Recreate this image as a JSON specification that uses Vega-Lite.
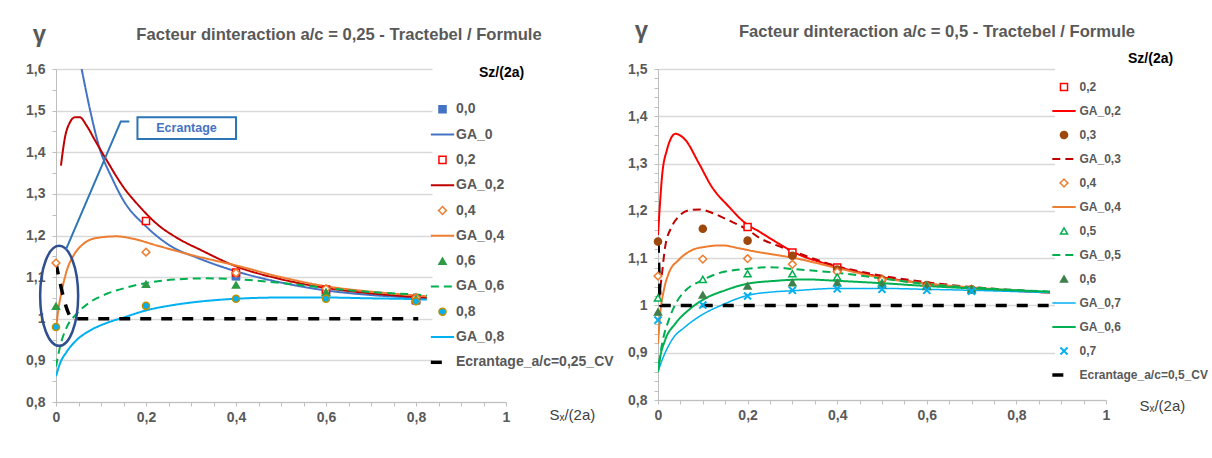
{
  "$schema": "https://vega.github.io/schema/vega-lite/v6.json",
  "padding": {"left": 25, "top": 18, "right": 2, "bottom": 2},
  "background": "white",
  "config": {
    "view": {"stroke": null},
    "font": "Liberation Sans",
    "axis": {"labelFont": "Liberation Sans", "titleFont": "Liberation Sans", "domainColor": "#BFBFBF", "tickColor": "#BFBFBF", "gridColor": "#D9D9D9", "gridWidth": 1.3, "labelColor": "#595959", "labelFontSize": 14, "labelFontWeight": "bold", "tickSize": 4, "labelFlush": false, "labelOverlap": false, "labelBound": false},
    "legend": {"symbolFillColor": "transparent", "symbolStrokeColor": "#000000", "labelFont": "Liberation Sans", "titleFont": "Liberation Sans"},
    "title": {"font": "Liberation Sans"}
  },
  "datasets": {
    "L": [
      {"s": "GA_0", "x": 0.057, "y": 1.6}, {"s": "GA_0", "x": 0.076, "y": 1.5}, {"s": "GA_0", "x": 0.094, "y": 1.42}, {"s": "GA_0", "x": 0.127, "y": 1.332}, {"s": "GA_0", "x": 0.15, "y": 1.284}, {"s": "GA_0", "x": 0.2, "y": 1.222}, {"s": "GA_0", "x": 0.25, "y": 1.178}, {"s": "GA_0", "x": 0.32, "y": 1.144}, {"s": "GA_0", "x": 0.4, "y": 1.114}, {"s": "GA_0", "x": 0.5, "y": 1.087}, {"s": "GA_0", "x": 0.6, "y": 1.068}, {"s": "GA_0", "x": 0.7, "y": 1.057}, {"s": "GA_0", "x": 0.8, "y": 1.05}, {"s": "GA_0", "x": 0.824, "y": 1.048},
      {"s": "GA_0,2", "x": 0.011, "y": 1.368}, {"s": "GA_0,2", "x": 0.02, "y": 1.436}, {"s": "GA_0,2", "x": 0.031, "y": 1.472}, {"s": "GA_0,2", "x": 0.042, "y": 1.484}, {"s": "GA_0,2", "x": 0.053, "y": 1.484}, {"s": "GA_0,2", "x": 0.068, "y": 1.464}, {"s": "GA_0,2", "x": 0.087, "y": 1.428}, {"s": "GA_0,2", "x": 0.113, "y": 1.38}, {"s": "GA_0,2", "x": 0.15, "y": 1.316}, {"s": "GA_0,2", "x": 0.187, "y": 1.268}, {"s": "GA_0,2", "x": 0.224, "y": 1.228}, {"s": "GA_0,2", "x": 0.276, "y": 1.19}, {"s": "GA_0,2", "x": 0.32, "y": 1.166}, {"s": "GA_0,2", "x": 0.4, "y": 1.126}, {"s": "GA_0,2", "x": 0.5, "y": 1.095}, {"s": "GA_0,2", "x": 0.6, "y": 1.074}, {"s": "GA_0,2", "x": 0.7, "y": 1.061}, {"s": "GA_0,2", "x": 0.8, "y": 1.052}, {"s": "GA_0,2", "x": 0.824, "y": 1.05},
      {"s": "GA_0,4", "x": 0, "y": 0.976}, {"s": "GA_0,4", "x": 0.005, "y": 1.02}, {"s": "GA_0,4", "x": 0.013, "y": 1.068}, {"s": "GA_0,4", "x": 0.024, "y": 1.116}, {"s": "GA_0,4", "x": 0.039, "y": 1.152}, {"s": "GA_0,4", "x": 0.061, "y": 1.18}, {"s": "GA_0,4", "x": 0.09, "y": 1.194}, {"s": "GA_0,4", "x": 0.135, "y": 1.198}, {"s": "GA_0,4", "x": 0.172, "y": 1.192}, {"s": "GA_0,4", "x": 0.224, "y": 1.176}, {"s": "GA_0,4", "x": 0.298, "y": 1.154}, {"s": "GA_0,4", "x": 0.4, "y": 1.128}, {"s": "GA_0,4", "x": 0.5, "y": 1.1}, {"s": "GA_0,4", "x": 0.6, "y": 1.078}, {"s": "GA_0,4", "x": 0.7, "y": 1.065}, {"s": "GA_0,4", "x": 0.8, "y": 1.056}, {"s": "GA_0,4", "x": 0.824, "y": 1.054},
      {"s": "GA_0,6", "x": 0, "y": 0.885}, {"s": "GA_0,6", "x": 0.009, "y": 0.933}, {"s": "GA_0,6", "x": 0.024, "y": 0.98}, {"s": "GA_0,6", "x": 0.046, "y": 1.012}, {"s": "GA_0,6", "x": 0.076, "y": 1.04}, {"s": "GA_0,6", "x": 0.113, "y": 1.06}, {"s": "GA_0,6", "x": 0.157, "y": 1.075}, {"s": "GA_0,6", "x": 0.201, "y": 1.086}, {"s": "GA_0,6", "x": 0.261, "y": 1.094}, {"s": "GA_0,6", "x": 0.335, "y": 1.097}, {"s": "GA_0,6", "x": 0.4, "y": 1.095}, {"s": "GA_0,6", "x": 0.5, "y": 1.086}, {"s": "GA_0,6", "x": 0.6, "y": 1.074}, {"s": "GA_0,6", "x": 0.7, "y": 1.064}, {"s": "GA_0,6", "x": 0.8, "y": 1.058}, {"s": "GA_0,6", "x": 0.824, "y": 1.056},
      {"s": "GA_0,8", "x": 0, "y": 0.862}, {"s": "GA_0,8", "x": 0.009, "y": 0.893}, {"s": "GA_0,8", "x": 0.024, "y": 0.921}, {"s": "GA_0,8", "x": 0.046, "y": 0.949}, {"s": "GA_0,8", "x": 0.076, "y": 0.972}, {"s": "GA_0,8", "x": 0.113, "y": 0.99}, {"s": "GA_0,8", "x": 0.15, "y": 1.003}, {"s": "GA_0,8", "x": 0.2, "y": 1.02}, {"s": "GA_0,8", "x": 0.261, "y": 1.033}, {"s": "GA_0,8", "x": 0.335, "y": 1.043}, {"s": "GA_0,8", "x": 0.4, "y": 1.048}, {"s": "GA_0,8", "x": 0.5, "y": 1.051}, {"s": "GA_0,8", "x": 0.6, "y": 1.051}, {"s": "GA_0,8", "x": 0.7, "y": 1.049}, {"s": "GA_0,8", "x": 0.8, "y": 1.047}, {"s": "GA_0,8", "x": 0.824, "y": 1.046},
      {"s": "Ecrantage_a/c=0,25_CV", "x": 0, "y": 1.133}, {"s": "Ecrantage_a/c=0,25_CV", "x": 0.038, "y": 1.0}, {"s": "Ecrantage_a/c=0,25_CV", "x": 0.805, "y": 1.0}
    ],
    "LP": [
      {"s": "0,0", "x": 0.4, "y": 1.102}, {"s": "0,0", "x": 0.6, "y": 1.064}, {"s": "0,0", "x": 0.8, "y": 1.044},
      {"s": "0,2", "x": 0.2, "y": 1.235}, {"s": "0,2", "x": 0.4, "y": 1.111}, {"s": "0,2", "x": 0.6, "y": 1.07}, {"s": "0,2", "x": 0.8, "y": 1.046},
      {"s": "0,4", "x": 0, "y": 1.134}, {"s": "0,4", "x": 0.2, "y": 1.16}, {"s": "0,4", "x": 0.4, "y": 1.11}, {"s": "0,4", "x": 0.6, "y": 1.072}, {"s": "0,4", "x": 0.8, "y": 1.051},
      {"s": "0,6", "x": 0, "y": 1.03}, {"s": "0,6", "x": 0.2, "y": 1.083}, {"s": "0,6", "x": 0.4, "y": 1.081}, {"s": "0,6", "x": 0.6, "y": 1.064}, {"s": "0,6", "x": 0.8, "y": 1.048},
      {"s": "0,8", "x": 0, "y": 0.98}, {"s": "0,8", "x": 0.2, "y": 1.031}, {"s": "0,8", "x": 0.4, "y": 1.048}, {"s": "0,8", "x": 0.6, "y": 1.048}, {"s": "0,8", "x": 0.8, "y": 1.042}
    ],
    "R": [
      {"s": "GA_0,2", "x": 0, "y": 1.149}, {"s": "GA_0,2", "x": 0.005, "y": 1.223}, {"s": "GA_0,2", "x": 0.009, "y": 1.273}, {"s": "GA_0,2", "x": 0.02, "y": 1.329}, {"s": "GA_0,2", "x": 0.039, "y": 1.363}, {"s": "GA_0,2", "x": 0.061, "y": 1.35}, {"s": "GA_0,2", "x": 0.091, "y": 1.301}, {"s": "GA_0,2", "x": 0.12, "y": 1.251}, {"s": "GA_0,2", "x": 0.158, "y": 1.209}, {"s": "GA_0,2", "x": 0.195, "y": 1.174}, {"s": "GA_0,2", "x": 0.228, "y": 1.155}, {"s": "GA_0,2", "x": 0.262, "y": 1.135}, {"s": "GA_0,2", "x": 0.3, "y": 1.114}, {"s": "GA_0,2", "x": 0.4, "y": 1.082}, {"s": "GA_0,2", "x": 0.5, "y": 1.06}, {"s": "GA_0,2", "x": 0.6, "y": 1.046}, {"s": "GA_0,2", "x": 0.7, "y": 1.037}, {"s": "GA_0,2", "x": 0.875, "y": 1.027},
      {"s": "GA_0,3", "x": 0.002, "y": 1.01}, {"s": "GA_0,3", "x": 0.009, "y": 1.068}, {"s": "GA_0,3", "x": 0.016, "y": 1.124}, {"s": "GA_0,3", "x": 0.031, "y": 1.167}, {"s": "GA_0,3", "x": 0.046, "y": 1.188}, {"s": "GA_0,3", "x": 0.068, "y": 1.201}, {"s": "GA_0,3", "x": 0.094, "y": 1.203}, {"s": "GA_0,3", "x": 0.12, "y": 1.196}, {"s": "GA_0,3", "x": 0.158, "y": 1.18}, {"s": "GA_0,3", "x": 0.2, "y": 1.16}, {"s": "GA_0,3", "x": 0.228, "y": 1.142}, {"s": "GA_0,3", "x": 0.262, "y": 1.128}, {"s": "GA_0,3", "x": 0.3, "y": 1.115}, {"s": "GA_0,3", "x": 0.4, "y": 1.083}, {"s": "GA_0,3", "x": 0.5, "y": 1.063}, {"s": "GA_0,3", "x": 0.6, "y": 1.049}, {"s": "GA_0,3", "x": 0.7, "y": 1.039}, {"s": "GA_0,3", "x": 0.875, "y": 1.028},
      {"s": "GA_0,4", "x": 0, "y": 0.919}, {"s": "GA_0,4", "x": 0.005, "y": 0.983}, {"s": "GA_0,4", "x": 0.013, "y": 1.032}, {"s": "GA_0,4", "x": 0.024, "y": 1.068}, {"s": "GA_0,4", "x": 0.046, "y": 1.096}, {"s": "GA_0,4", "x": 0.076, "y": 1.117}, {"s": "GA_0,4", "x": 0.106, "y": 1.124}, {"s": "GA_0,4", "x": 0.143, "y": 1.127}, {"s": "GA_0,4", "x": 0.18, "y": 1.121}, {"s": "GA_0,4", "x": 0.217, "y": 1.114}, {"s": "GA_0,4", "x": 0.262, "y": 1.107}, {"s": "GA_0,4", "x": 0.3, "y": 1.101}, {"s": "GA_0,4", "x": 0.4, "y": 1.079}, {"s": "GA_0,4", "x": 0.5, "y": 1.058}, {"s": "GA_0,4", "x": 0.6, "y": 1.046}, {"s": "GA_0,4", "x": 0.7, "y": 1.038}, {"s": "GA_0,4", "x": 0.875, "y": 1.027},
      {"s": "GA_0,5", "x": 0.002, "y": 0.877}, {"s": "GA_0,5", "x": 0.01, "y": 0.923}, {"s": "GA_0,5", "x": 0.024, "y": 0.969}, {"s": "GA_0,5", "x": 0.039, "y": 1.003}, {"s": "GA_0,5", "x": 0.061, "y": 1.031}, {"s": "GA_0,5", "x": 0.098, "y": 1.053}, {"s": "GA_0,5", "x": 0.135, "y": 1.068}, {"s": "GA_0,5", "x": 0.195, "y": 1.077}, {"s": "GA_0,5", "x": 0.25, "y": 1.081}, {"s": "GA_0,5", "x": 0.3, "y": 1.077}, {"s": "GA_0,5", "x": 0.4, "y": 1.069}, {"s": "GA_0,5", "x": 0.5, "y": 1.057}, {"s": "GA_0,5", "x": 0.6, "y": 1.045}, {"s": "GA_0,5", "x": 0.7, "y": 1.038}, {"s": "GA_0,5", "x": 0.875, "y": 1.029},
      {"s": "GA_0,7", "x": 0, "y": 0.86}, {"s": "GA_0,7", "x": 0.009, "y": 0.884}, {"s": "GA_0,7", "x": 0.031, "y": 0.927}, {"s": "GA_0,7", "x": 0.061, "y": 0.955}, {"s": "GA_0,7", "x": 0.098, "y": 0.98}, {"s": "GA_0,7", "x": 0.143, "y": 1.001}, {"s": "GA_0,7", "x": 0.195, "y": 1.02}, {"s": "GA_0,7", "x": 0.262, "y": 1.029}, {"s": "GA_0,7", "x": 0.3, "y": 1.031}, {"s": "GA_0,7", "x": 0.4, "y": 1.036}, {"s": "GA_0,7", "x": 0.5, "y": 1.036}, {"s": "GA_0,7", "x": 0.6, "y": 1.034}, {"s": "GA_0,7", "x": 0.7, "y": 1.032}, {"s": "GA_0,7", "x": 0.875, "y": 1.027},
      {"s": "GA_0,6", "x": 0, "y": 0.859}, {"s": "GA_0,6", "x": 0.005, "y": 0.891}, {"s": "GA_0,6", "x": 0.016, "y": 0.927}, {"s": "GA_0,6", "x": 0.039, "y": 0.962}, {"s": "GA_0,6", "x": 0.068, "y": 0.99}, {"s": "GA_0,6", "x": 0.106, "y": 1.015}, {"s": "GA_0,6", "x": 0.15, "y": 1.032}, {"s": "GA_0,6", "x": 0.195, "y": 1.045}, {"s": "GA_0,6", "x": 0.262, "y": 1.052}, {"s": "GA_0,6", "x": 0.33, "y": 1.055}, {"s": "GA_0,6", "x": 0.4, "y": 1.052}, {"s": "GA_0,6", "x": 0.5, "y": 1.047}, {"s": "GA_0,6", "x": 0.6, "y": 1.041}, {"s": "GA_0,6", "x": 0.7, "y": 1.036}, {"s": "GA_0,6", "x": 0.875, "y": 1.029},
      {"s": "Ecrantage_a/c=0,5_CV", "x": 0, "y": 1.135}, {"s": "Ecrantage_a/c=0,5_CV", "x": 0.006, "y": 1.0}, {"s": "Ecrantage_a/c=0,5_CV", "x": 0.872, "y": 1.0}
    ],
    "RP": [
      {"s": "0,2", "x": 0.2, "y": 1.166}, {"s": "0,2", "x": 0.3, "y": 1.112}, {"s": "0,2", "x": 0.4, "y": 1.08},
      {"s": "0,3", "x": 0, "y": 1.135}, {"s": "0,3", "x": 0.1, "y": 1.162}, {"s": "0,3", "x": 0.2, "y": 1.137}, {"s": "0,3", "x": 0.3, "y": 1.105}, {"s": "0,3", "x": 0.4, "y": 1.076}, {"s": "0,3", "x": 0.5, "y": 1.055}, {"s": "0,3", "x": 0.6, "y": 1.043}, {"s": "0,3", "x": 0.7, "y": 1.034},
      {"s": "0,4", "x": 0, "y": 1.062}, {"s": "0,4", "x": 0.1, "y": 1.098}, {"s": "0,4", "x": 0.2, "y": 1.099}, {"s": "0,4", "x": 0.3, "y": 1.087}, {"s": "0,4", "x": 0.4, "y": 1.071}, {"s": "0,4", "x": 0.5, "y": 1.054}, {"s": "0,4", "x": 0.6, "y": 1.041}, {"s": "0,4", "x": 0.7, "y": 1.034},
      {"s": "0,5", "x": 0, "y": 1.016}, {"s": "0,5", "x": 0.1, "y": 1.055}, {"s": "0,5", "x": 0.2, "y": 1.067}, {"s": "0,5", "x": 0.3, "y": 1.067}, {"s": "0,5", "x": 0.4, "y": 1.06}, {"s": "0,5", "x": 0.5, "y": 1.048}, {"s": "0,5", "x": 0.6, "y": 1.042}, {"s": "0,5", "x": 0.7, "y": 1.035},
      {"s": "0,6", "x": 0, "y": 0.986}, {"s": "0,6", "x": 0.1, "y": 1.022}, {"s": "0,6", "x": 0.2, "y": 1.041}, {"s": "0,6", "x": 0.3, "y": 1.048}, {"s": "0,6", "x": 0.4, "y": 1.048}, {"s": "0,6", "x": 0.5, "y": 1.044}, {"s": "0,6", "x": 0.6, "y": 1.04}, {"s": "0,6", "x": 0.7, "y": 1.033},
      {"s": "0,7", "x": 0, "y": 0.969}, {"s": "0,7", "x": 0.1, "y": 1.001}, {"s": "0,7", "x": 0.2, "y": 1.02}, {"s": "0,7", "x": 0.3, "y": 1.032}, {"s": "0,7", "x": 0.4, "y": 1.035}, {"s": "0,7", "x": 0.5, "y": 1.034}, {"s": "0,7", "x": 0.6, "y": 1.032}, {"s": "0,7", "x": 0.7, "y": 1.03}
    ],
    "ell": [{"x": 0.007, "y": 1.055}],
    "call": [{"x": 0.022, "y": 1.166}, {"x": 0.144, "y": 1.474}, {"x": 0.163, "y": 1.474}],
    "box": [{"x1": 0.181, "x2": 0.4, "y1": 1.484, "y2": 1.432, "xc": 0.29, "yc": 1.458, "t": "Ecrantage"}]
  },
  "hconcat": [
    {
      "width": 450,
      "height": 333,
      "title": {"text": "Facteur dinteraction a/c = 0,25 - Tractebel / Formule", "anchor": "middle", "dx": 58, "dy": 26, "fontSize": 16.6, "fontWeight": "bold", "color": "#595959"},
      "layer": [
        {
          "data": {"name": "L"},
          "mark": {"type": "line", "interpolate": "monotone", "clip": true},
          "encoding": {
            "x": {"field": "x", "type": "quantitative", "scale": {"domain": [0, 1], "nice": false, "zero": false},
              "axis": {"values": [0, 0.05, 0.1, 0.15, 0.2, 0.25, 0.3, 0.35, 0.4, 0.45, 0.5, 0.55, 0.6, 0.65, 0.7, 0.75, 0.8, 0.85, 0.9, 0.95, 1], "tickCount": 100, "grid": false, "labelPadding": 4, "labelOverlap": false,
                "labelExpr": "abs(datum.value*5-round(datum.value*5))<1e-6 ? replace(format(datum.value,'.1~f'),'.',',') : ''",
                "title": "Sₓ/(2a)", "titleX": 493, "titleY": 12, "titleAlign": "left", "titleBaseline": "middle", "titleFontWeight": "normal", "titleFontSize": 15, "titleColor": "#404040"}},
            "y": {"field": "y", "type": "quantitative", "scale": {"domain": [0.8, 1.6], "nice": false, "zero": false},
              "axis": {"values": [0.8, 0.85, 0.9, 0.95, 1, 1.05, 1.1, 1.15, 1.2, 1.25, 1.3, 1.35, 1.4, 1.45, 1.5, 1.55, 1.6], "tickCount": 100, "grid": true, "labelOverlap": false,
                "gridOpacity": {"condition": {"test": "abs(datum.value*10-round(datum.value*10))<1e-6", "value": 1}, "value": 0},
                "labelExpr": "abs(datum.value*10-round(datum.value*10))<1e-6 ? replace(format(datum.value,'.1~f'),'.',',') : ''",
                "labelPadding": 7, "labelBaseline": "middle",
                "title": "γ", "titleAngle": 0, "titleX": -17, "titleY": -35, "titleAlign": "center", "titleBaseline": "middle", "titleFontSize": 24, "titleFontWeight": "bold", "titleColor": "#595959"}},
            "stroke": {"field": "s", "type": "nominal",
              "scale": {"domain": ["0,0", "GA_0", "0,2", "GA_0,2", "0,4", "GA_0,4", "0,6", "GA_0,6", "0,8", "GA_0,8", "Ecrantage_a/c=0,25_CV"], "range": ["#4472C4", "#4472C4", "#FF0000", "#C00000", "#ED7D31", "#ED7D31", "#2E9A46", "#00B050", "#BF9000", "#00B0F0", "#000000"]},
              "legend": {"title": "Sz/(2a)", "orient": "none", "legendX": 376.5, "legendY": -6, "titleFontSize": 14, "titleFontWeight": "bold", "titleColor": "#000000", "labelFontSize": 14, "labelFontWeight": "bold", "labelColor": "#595959", "symbolSize": 50, "rowPadding": 11.3, "labelOffset": 6.5, "titlePadding": 22.3, "fillColor": "#FFFFFF", "padding": 3, "symbolFillColor": "transparent", "symbolStrokeColor": "#000000", "gridAlign": "all", "labelLimit": 300, "encoding": {"title": {"dx": {"value": 43.5}}}}},
            "strokeDash": {"field": "s", "type": "nominal",
              "scale": {"type": "ordinal", "domain": ["0,0", "GA_0", "0,2", "GA_0,2", "0,4", "GA_0,4", "0,6", "GA_0,6", "0,8", "GA_0,8", "Ecrantage_a/c=0,25_CV"], "range": [[1, 0], [1, 0], [1, 0], [1, 0], [1, 0], [1, 0], [1, 0], [8, 5], [1, 0], [1, 0], [11, 10]]},
              "legend": {"title": "Sz/(2a)", "orient": "none", "legendX": 376.5, "legendY": -6, "titleFontSize": 14, "titleFontWeight": "bold", "titleColor": "#000000", "labelFontSize": 14, "labelFontWeight": "bold", "labelColor": "#595959", "symbolSize": 50, "rowPadding": 11.3, "labelOffset": 6.5, "titlePadding": 22.3, "fillColor": "#FFFFFF", "padding": 3, "symbolFillColor": "transparent", "symbolStrokeColor": "#000000", "gridAlign": "all", "labelLimit": 300, "encoding": {"title": {"dx": {"value": 43.5}}}}},
            "strokeWidth": {"field": "s", "type": "nominal",
              "scale": {"type": "ordinal", "domain": ["0,0", "GA_0", "0,2", "GA_0,2", "0,4", "GA_0,4", "0,6", "GA_0,6", "0,8", "GA_0,8", "Ecrantage_a/c=0,25_CV"], "range": [1.5, 2, 1.5, 2, 1.5, 2, 1.5, 2, 1.5, 2, 3.5]},
              "legend": {"title": "Sz/(2a)", "orient": "none", "legendX": 376.5, "legendY": -6, "titleFontSize": 14, "titleFontWeight": "bold", "titleColor": "#000000", "labelFontSize": 14, "labelFontWeight": "bold", "labelColor": "#595959", "symbolSize": 50, "rowPadding": 11.3, "labelOffset": 6.5, "titlePadding": 22.3, "fillColor": "#FFFFFF", "padding": 3, "symbolFillColor": "transparent", "symbolStrokeColor": "#000000", "gridAlign": "all", "labelLimit": 300, "encoding": {"title": {"dx": {"value": 43.5}}}}}
          }
        },
        {
          "data": {"name": "LP"},
          "mark": {"type": "point", "size": 50, "opacity": 1, "clip": false},
          "encoding": {
            "x": {"field": "x", "type": "quantitative"},
            "y": {"field": "y", "type": "quantitative"},
            "stroke": {"field": "s", "type": "nominal",
              "scale": {"domain": ["0,0", "GA_0", "0,2", "GA_0,2", "0,4", "GA_0,4", "0,6", "GA_0,6", "0,8", "GA_0,8", "Ecrantage_a/c=0,25_CV"], "range": ["#4472C4", "#4472C4", "#FF0000", "#C00000", "#ED7D31", "#ED7D31", "#2E9A46", "#00B050", "#BF9000", "#00B0F0", "#000000"]},
              "legend": {"title": "Sz/(2a)", "orient": "none", "legendX": 376.5, "legendY": -6, "titleFontSize": 14, "titleFontWeight": "bold", "titleColor": "#000000", "labelFontSize": 14, "labelFontWeight": "bold", "labelColor": "#595959", "symbolSize": 50, "rowPadding": 11.3, "labelOffset": 6.5, "titlePadding": 22.3, "fillColor": "#FFFFFF", "padding": 3, "symbolFillColor": "transparent", "symbolStrokeColor": "#000000", "gridAlign": "all", "labelLimit": 300, "encoding": {"title": {"dx": {"value": 43.5}}}}},
            "fill": {"field": "s", "type": "nominal",
              "scale": {"domain": ["0,0", "GA_0", "0,2", "GA_0,2", "0,4", "GA_0,4", "0,6", "GA_0,6", "0,8", "GA_0,8", "Ecrantage_a/c=0,25_CV"], "range": ["#4472C4", "transparent", "#FFFFFF", "transparent", "#FFFFFF", "transparent", "#2E9A46", "transparent", "#00B0F0", "transparent", "transparent"]},
              "legend": {"title": "Sz/(2a)", "orient": "none", "legendX": 376.5, "legendY": -6, "titleFontSize": 14, "titleFontWeight": "bold", "titleColor": "#000000", "labelFontSize": 14, "labelFontWeight": "bold", "labelColor": "#595959", "symbolSize": 50, "rowPadding": 11.3, "labelOffset": 6.5, "titlePadding": 22.3, "fillColor": "#FFFFFF", "padding": 3, "symbolFillColor": "transparent", "symbolStrokeColor": "#000000", "gridAlign": "all", "labelLimit": 300, "encoding": {"title": {"dx": {"value": 43.5}}}}},
            "shape": {"field": "s", "type": "nominal",
              "scale": {"domain": ["0,0", "GA_0", "0,2", "GA_0,2", "0,4", "GA_0,4", "0,6", "GA_0,6", "0,8", "GA_0,8", "Ecrantage_a/c=0,25_CV"], "range": ["square", "M-3.3,0L3.3,0", "square", "M-3.3,0L3.3,0", "M0,-1.1L1.1,0L0,1.1L-1.1,0Z", "M-3.3,0L3.3,0", "triangle-up", "M-3.3,0L3.3,0", "circle", "M-3.3,0L3.3,0", "M-3.3,0L-0.1,0"]},
              "legend": {"title": "Sz/(2a)", "orient": "none", "legendX": 376.5, "legendY": -6, "titleFontSize": 14, "titleFontWeight": "bold", "titleColor": "#000000", "labelFontSize": 14, "labelFontWeight": "bold", "labelColor": "#595959", "symbolSize": 50, "rowPadding": 11.3, "labelOffset": 6.5, "titlePadding": 22.3, "fillColor": "#FFFFFF", "padding": 3, "symbolFillColor": "transparent", "symbolStrokeColor": "#000000", "gridAlign": "all", "labelLimit": 300, "encoding": {"title": {"dx": {"value": 43.5}}}}},
            "strokeWidth": {"field": "s", "type": "nominal",
              "scale": {"type": "ordinal", "domain": ["0,0", "GA_0", "0,2", "GA_0,2", "0,4", "GA_0,4", "0,6", "GA_0,6", "0,8", "GA_0,8", "Ecrantage_a/c=0,25_CV"], "range": [1.5, 2, 1.5, 2, 1.5, 2, 1.5, 2, 1.5, 2, 3.5]},
              "legend": {"title": "Sz/(2a)", "orient": "none", "legendX": 376.5, "legendY": -6, "titleFontSize": 14, "titleFontWeight": "bold", "titleColor": "#000000", "labelFontSize": 14, "labelFontWeight": "bold", "labelColor": "#595959", "symbolSize": 50, "rowPadding": 11.3, "labelOffset": 6.5, "titlePadding": 22.3, "fillColor": "#FFFFFF", "padding": 3, "symbolFillColor": "transparent", "symbolStrokeColor": "#000000", "gridAlign": "all", "labelLimit": 300, "encoding": {"title": {"dx": {"value": 43.5}}}}}
          }
        },
        {
          "data": {"name": "ell"},
          "mark": {"type": "point", "shape": "M-0.38,0A0.38,1,0,1,0,0.38,0A0.38,1,0,1,0,-0.38,0Z", "size": 10000, "color": "#2F4F8F", "strokeWidth": 2.5, "filled": false, "opacity": 1, "clip": false},
          "encoding": {"x": {"field": "x", "type": "quantitative"}, "y": {"field": "y", "type": "quantitative"}}
        },
        {
          "data": {"name": "call"},
          "mark": {"type": "line", "color": "#2E75B6", "strokeWidth": 2, "clip": false},
          "encoding": {"x": {"field": "x", "type": "quantitative"}, "y": {"field": "y", "type": "quantitative"}}
        },
        {
          "data": {"name": "box"},
          "mark": {"type": "rect", "fill": "#FFFFFF", "stroke": "#2E75B6", "strokeWidth": 2},
          "encoding": {"x": {"field": "x1", "type": "quantitative"}, "x2": {"field": "x2"}, "y": {"field": "y1", "type": "quantitative"}, "y2": {"field": "y2"}}
        },
        {
          "data": {"name": "box"},
          "mark": {"type": "text", "color": "#4472C4", "fontWeight": "bold", "fontSize": 12.5, "align": "center", "baseline": "middle"},
          "encoding": {"x": {"field": "xc", "type": "quantitative"}, "y": {"field": "yc", "type": "quantitative"}, "text": {"field": "t"}}
        }
      ]
    },
    {
      "width": 448,
      "height": 331,
      "title": {"text": "Facteur dinteraction a/c = 0,5 - Tractebel / Formule", "anchor": "middle", "dx": 55, "dy": 27, "fontSize": 16.6, "fontWeight": "bold", "color": "#595959"},
      "layer": [
        {
          "data": {"name": "R"},
          "mark": {"type": "line", "interpolate": "monotone", "clip": true},
          "encoding": {
            "x": {"field": "x", "type": "quantitative", "scale": {"domain": [0, 1], "nice": false, "zero": false},
              "axis": {"values": [0, 0.05, 0.1, 0.15, 0.2, 0.25, 0.3, 0.35, 0.4, 0.45, 0.5, 0.55, 0.6, 0.65, 0.7, 0.75, 0.8, 0.85, 0.9, 0.95, 1], "tickCount": 100, "grid": false, "labelPadding": 4, "labelOverlap": false,
                "labelExpr": "abs(datum.value*5-round(datum.value*5))<1e-6 ? replace(format(datum.value,'.1~f'),'.',',') : ''",
                "title": "Sₓ/(2a)", "titleX": 481, "titleY": 5, "titleAlign": "left", "titleBaseline": "middle", "titleFontWeight": "normal", "titleFontSize": 15, "titleColor": "#404040"}},
            "y": {"field": "y", "type": "quantitative", "scale": {"domain": [0.8, 1.5], "nice": false, "zero": false},
              "axis": {"values": [0.8, 0.82, 0.84, 0.86, 0.88, 0.9, 0.92, 0.94, 0.96, 0.98, 1, 1.02, 1.04, 1.06, 1.08, 1.1, 1.12, 1.14, 1.16, 1.18, 1.2, 1.22, 1.24, 1.26, 1.28, 1.3, 1.32, 1.34, 1.36, 1.38, 1.4, 1.42, 1.44, 1.46, 1.48, 1.5], "tickCount": 100, "grid": true, "labelOverlap": false,
                "gridOpacity": {"condition": {"test": "abs(datum.value*10-round(datum.value*10))<1e-6", "value": 1}, "value": 0},
                "labelExpr": "abs(datum.value*10-round(datum.value*10))<1e-6 ? replace(format(datum.value,'.1~f'),'.',',') : ''",
                "labelPadding": 7, "labelBaseline": "middle",
                "title": "γ", "titleAngle": 0, "titleX": -17, "titleY": -39, "titleAlign": "center", "titleBaseline": "middle", "titleFontSize": 24, "titleFontWeight": "bold", "titleColor": "#595959"}},
            "stroke": {"field": "s", "type": "nominal",
              "scale": {"domain": ["0,2", "GA_0,2", "0,3", "GA_0,3", "0,4", "GA_0,4", "0,5", "GA_0,5", "0,6", "GA_0,7", "GA_0,6", "0,7", "Ecrantage_a/c=0,5_CV"], "range": ["#FF0000", "#FF0000", "#9E480E", "#C00000", "#ED7D31", "#ED7D31", "#00B050", "#00B050", "#3F7F4B", "#00B0F0", "#00B050", "#00B0F0", "#000000"]},
              "legend": {"title": "Sz/(2a)", "orient": "none", "legendX": 397, "legendY": -20.4, "titleFontSize": 14, "titleFontWeight": "bold", "titleColor": "#000000", "labelFontSize": 12, "labelFontWeight": "bold", "labelColor": "#595959", "symbolSize": 50, "rowPadding": 8, "labelOffset": 9.5, "titlePadding": 15.4, "fillColor": "#FFFFFF", "padding": 3, "symbolFillColor": "transparent", "symbolStrokeColor": "#000000", "gridAlign": "all", "labelLimit": 300, "encoding": {"title": {"dx": {"value": 70}}}}},
            "strokeDash": {"field": "s", "type": "nominal",
              "scale": {"type": "ordinal", "domain": ["0,2", "GA_0,2", "0,3", "GA_0,3", "0,4", "GA_0,4", "0,5", "GA_0,5", "0,6", "GA_0,7", "GA_0,6", "0,7", "Ecrantage_a/c=0,5_CV"], "range": [[1, 0], [1, 0], [1, 0], [8, 5], [1, 0], [1, 0], [1, 0], [8, 5], [1, 0], [1, 0], [1, 0], [1, 0], [11, 10]]},
              "legend": {"title": "Sz/(2a)", "orient": "none", "legendX": 397, "legendY": -20.4, "titleFontSize": 14, "titleFontWeight": "bold", "titleColor": "#000000", "labelFontSize": 12, "labelFontWeight": "bold", "labelColor": "#595959", "symbolSize": 50, "rowPadding": 8, "labelOffset": 9.5, "titlePadding": 15.4, "fillColor": "#FFFFFF", "padding": 3, "symbolFillColor": "transparent", "symbolStrokeColor": "#000000", "gridAlign": "all", "labelLimit": 300, "encoding": {"title": {"dx": {"value": 70}}}}},
            "strokeWidth": {"field": "s", "type": "nominal",
              "scale": {"type": "ordinal", "domain": ["0,2", "GA_0,2", "0,3", "GA_0,3", "0,4", "GA_0,4", "0,5", "GA_0,5", "0,6", "GA_0,7", "GA_0,6", "0,7", "Ecrantage_a/c=0,5_CV"], "range": [1.5, 2, 1.5, 2, 1.5, 2, 1.5, 2, 1.5, 1.5, 2, 2, 3.5]},
              "legend": {"title": "Sz/(2a)", "orient": "none", "legendX": 397, "legendY": -20.4, "titleFontSize": 14, "titleFontWeight": "bold", "titleColor": "#000000", "labelFontSize": 12, "labelFontWeight": "bold", "labelColor": "#595959", "symbolSize": 50, "rowPadding": 8, "labelOffset": 9.5, "titlePadding": 15.4, "fillColor": "#FFFFFF", "padding": 3, "symbolFillColor": "transparent", "symbolStrokeColor": "#000000", "gridAlign": "all", "labelLimit": 300, "encoding": {"title": {"dx": {"value": 70}}}}}
          }
        },
        {
          "data": {"name": "RP"},
          "mark": {"type": "point", "size": 50, "opacity": 1, "clip": false},
          "encoding": {
            "x": {"field": "x", "type": "quantitative"},
            "y": {"field": "y", "type": "quantitative"},
            "stroke": {"field": "s", "type": "nominal",
              "scale": {"domain": ["0,2", "GA_0,2", "0,3", "GA_0,3", "0,4", "GA_0,4", "0,5", "GA_0,5", "0,6", "GA_0,7", "GA_0,6", "0,7", "Ecrantage_a/c=0,5_CV"], "range": ["#FF0000", "#FF0000", "#9E480E", "#C00000", "#ED7D31", "#ED7D31", "#00B050", "#00B050", "#3F7F4B", "#00B0F0", "#00B050", "#00B0F0", "#000000"]},
              "legend": {"title": "Sz/(2a)", "orient": "none", "legendX": 397, "legendY": -20.4, "titleFontSize": 14, "titleFontWeight": "bold", "titleColor": "#000000", "labelFontSize": 12, "labelFontWeight": "bold", "labelColor": "#595959", "symbolSize": 50, "rowPadding": 8, "labelOffset": 9.5, "titlePadding": 15.4, "fillColor": "#FFFFFF", "padding": 3, "symbolFillColor": "transparent", "symbolStrokeColor": "#000000", "gridAlign": "all", "labelLimit": 300, "encoding": {"title": {"dx": {"value": 70}}}}},
            "fill": {"field": "s", "type": "nominal",
              "scale": {"domain": ["0,2", "GA_0,2", "0,3", "GA_0,3", "0,4", "GA_0,4", "0,5", "GA_0,5", "0,6", "GA_0,7", "GA_0,6", "0,7", "Ecrantage_a/c=0,5_CV"], "range": ["#FFFFFF", "transparent", "#9E480E", "transparent", "#FFFFFF", "transparent", "#FFFFFF", "transparent", "#3F7F4B", "transparent", "transparent", "transparent", "transparent"]},
              "legend": {"title": "Sz/(2a)", "orient": "none", "legendX": 397, "legendY": -20.4, "titleFontSize": 14, "titleFontWeight": "bold", "titleColor": "#000000", "labelFontSize": 12, "labelFontWeight": "bold", "labelColor": "#595959", "symbolSize": 50, "rowPadding": 8, "labelOffset": 9.5, "titlePadding": 15.4, "fillColor": "#FFFFFF", "padding": 3, "symbolFillColor": "transparent", "symbolStrokeColor": "#000000", "gridAlign": "all", "labelLimit": 300, "encoding": {"title": {"dx": {"value": 70}}}}},
            "shape": {"field": "s", "type": "nominal",
              "scale": {"domain": ["0,2", "GA_0,2", "0,3", "GA_0,3", "0,4", "GA_0,4", "0,5", "GA_0,5", "0,6", "GA_0,7", "GA_0,6", "0,7", "Ecrantage_a/c=0,5_CV"], "range": ["square", "M-3.3,0L3.3,0", "circle", "M-3.3,0L3.3,0", "M0,-1.1L1.1,0L0,1.1L-1.1,0Z", "M-3.3,0L3.3,0", "triangle-up", "M-3.3,0L3.3,0", "triangle-up", "M-3.3,0L3.3,0", "M-3.3,0L3.3,0", "M-1,-1L1,1M-1,1L1,-1", "M-3.3,0L-0.1,0"]},
              "legend": {"title": "Sz/(2a)", "orient": "none", "legendX": 397, "legendY": -20.4, "titleFontSize": 14, "titleFontWeight": "bold", "titleColor": "#000000", "labelFontSize": 12, "labelFontWeight": "bold", "labelColor": "#595959", "symbolSize": 50, "rowPadding": 8, "labelOffset": 9.5, "titlePadding": 15.4, "fillColor": "#FFFFFF", "padding": 3, "symbolFillColor": "transparent", "symbolStrokeColor": "#000000", "gridAlign": "all", "labelLimit": 300, "encoding": {"title": {"dx": {"value": 70}}}}},
            "strokeWidth": {"field": "s", "type": "nominal",
              "scale": {"type": "ordinal", "domain": ["0,2", "GA_0,2", "0,3", "GA_0,3", "0,4", "GA_0,4", "0,5", "GA_0,5", "0,6", "GA_0,7", "GA_0,6", "0,7", "Ecrantage_a/c=0,5_CV"], "range": [1.5, 2, 1.5, 2, 1.5, 2, 1.5, 2, 1.5, 1.5, 2, 2, 3.5]},
              "legend": {"title": "Sz/(2a)", "orient": "none", "legendX": 397, "legendY": -20.4, "titleFontSize": 14, "titleFontWeight": "bold", "titleColor": "#000000", "labelFontSize": 12, "labelFontWeight": "bold", "labelColor": "#595959", "symbolSize": 50, "rowPadding": 8, "labelOffset": 9.5, "titlePadding": 15.4, "fillColor": "#FFFFFF", "padding": 3, "symbolFillColor": "transparent", "symbolStrokeColor": "#000000", "gridAlign": "all", "labelLimit": 300, "encoding": {"title": {"dx": {"value": 70}}}}}
          }
        }
      ]
    }
  ],
  "spacing": 152,
  "bounds": "flush",
  "resolve": {
    "scale": {"stroke": "independent", "fill": "independent", "shape": "independent", "strokeDash": "independent", "strokeWidth": "independent"},
    "legend": {"stroke": "independent", "fill": "independent", "shape": "independent", "strokeDash": "independent", "strokeWidth": "independent"}
  }
}
